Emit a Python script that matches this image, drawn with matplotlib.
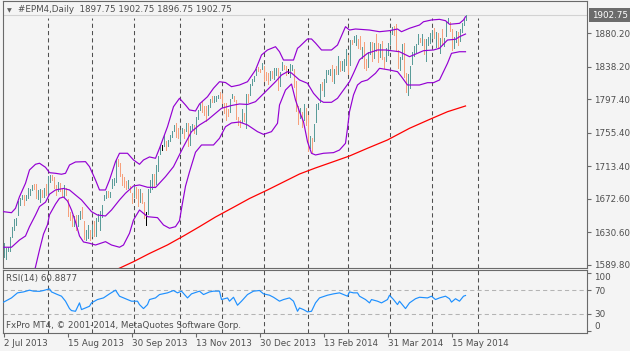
import matplotlib
matplotlib.use("Agg")
import matplotlib.pyplot as plt
import matplotlib.transforms as mtransforms

# ---- daily bars (#EPM4), one per trading session, 2 Jul 2013 .. 26 May 2014
closes = [
    1607.1, 1608.4, 1610.0, 1624.9, 1633.5, 1645.3, 1645.6, 1668.0, 1673.2, 1675.5,
    1669.3, 1673.9, 1682.4, 1685.1, 1688.5, 1685.4, 1678.9, 1683.3, 1684.7, 1678.3,
    1679.0, 1678.7, 1699.9, 1702.7, 1700.1, 1690.4, 1683.9, 1690.5, 1684.4, 1682.5,
    1687.2, 1678.4, 1654.3, 1648.8, 1639.1, 1645.4, 1635.8, 1650.0, 1656.5, 1649.8,
    1623.5, 1628.0, 1631.2, 1626.0, 1638.0, 1632.8, 1646.1, 1648.1, 1648.2, 1664.7,
    1677.0, 1682.1, 1676.4, 1681.0, 1690.6, 1697.8, 1718.5, 1715.3, 1702.9, 1694.8,
    1690.4, 1685.8, 1691.7, 1684.8, 1674.6, 1688.0, 1686.9, 1671.7, 1683.5, 1669.1,
    1648.5, 1649.4, 1685.6, 1696.2, 1703.1, 1691.1, 1714.5, 1726.2, 1737.5, 1737.7,
    1747.7, 1739.4, 1745.1, 1752.8, 1755.1, 1765.0, 1756.3, 1749.5, 1754.6, 1760.9,
    1756.0, 1763.5, 1740.2, 1763.6, 1764.9, 1760.7, 1775.0, 1783.6, 1791.2, 1784.5,
    1780.9, 1774.4, 1788.9, 1797.8, 1795.5, 1795.8, 1800.2, 1801.5, 1798.8, 1793.9,
    1788.2, 1785.8, 1778.0, 1798.1, 1801.4, 1795.6, 1775.2, 1768.5, 1768.3, 1779.5,
    1774.0, 1803.7, 1802.6, 1811.3, 1821.0, 1826.3, 1835.0, 1834.4, 1834.1, 1841.4,
    1825.0, 1824.4, 1819.8, 1830.9, 1830.5, 1831.1, 1835.4, 1812.2, 1831.9, 1841.4,
    1838.9, 1831.7, 1833.5, 1836.8, 1837.9, 1821.5, 1783.3, 1774.6, 1785.5, 1767.2,
    1787.2, 1775.6, 1734.9, 1748.2, 1744.6, 1766.4, 1790.0, 1792.8, 1812.8, 1812.3,
    1822.8, 1831.6, 1832.0, 1833.8, 1821.8, 1832.8, 1829.3, 1840.6, 1838.1, 1838.2,
    1847.3, 1852.5, 1840.7, 1868.9, 1868.8, 1872.0, 1873.0, 1872.2, 1862.6, 1863.2,
    1841.3, 1836.1, 1853.8, 1867.3, 1855.8, 1867.0, 1861.5, 1852.4, 1860.6, 1847.6,
    1844.0, 1852.6, 1867.3, 1880.5, 1885.9, 1883.8, 1860.1, 1840.0, 1847.0, 1867.2,
    1828.1, 1810.7, 1825.6, 1838.0, 1857.3, 1859.9, 1866.9, 1874.6, 1870.4, 1873.6,
    1858.4, 1864.4, 1873.3, 1879.0, 1879.7, 1877.1, 1880.7, 1863.7, 1874.2, 1871.6,
    1874.5, 1893.7, 1894.5, 1885.5, 1867.9, 1874.9, 1882.1, 1869.8, 1885.0, 1889.5,
    1897.5, 1902.75]
highs = [
    1617.3, 1611.0, 1612.5, 1625.1, 1637.7, 1647.2, 1649.0, 1669.6, 1673.2, 1678.0,
    1677.8, 1677.8, 1686.1, 1685.1, 1690.6, 1691.8, 1691.4, 1683.9, 1684.9, 1683.9,
    1686.2, 1691.4, 1700.9, 1702.7, 1702.2, 1699.7, 1689.8, 1693.2, 1692.4, 1684.5,
    1689.8, 1686.4, 1672.6, 1656.6, 1652.6, 1651.6, 1652.5, 1652.0, 1657.8, 1662.5,
    1645.5, 1634.2, 1639.4, 1633.6, 1640.0, 1644.4, 1648.7, 1653.9, 1657.8, 1665.4,
    1677.1, 1682.1, 1683.0, 1681.6, 1698.0, 1698.5, 1722.4, 1722.9, 1718.0, 1704.4,
    1700.6, 1694.7, 1696.9, 1688.5, 1680.3, 1689.6, 1686.9, 1685.6, 1684.9, 1680.5,
    1669.2, 1655.6, 1685.6, 1696.4, 1704.0, 1704.0, 1714.8, 1726.4, 1738.3, 1740.8,
    1752.3, 1745.7, 1746.8, 1752.8, 1758.0, 1765.1, 1768.2, 1761.5, 1758.7, 1761.8,
    1760.0, 1767.5, 1767.5, 1763.8, 1766.4, 1764.8, 1775.0, 1784.0, 1791.2, 1795.3,
    1788.5, 1788.7, 1790.0, 1797.8, 1801.4, 1801.4, 1801.4, 1803.0, 1806.6, 1804.0,
    1793.1, 1792.8, 1785.2, 1798.1, 1804.5, 1801.4, 1796.0, 1775.1, 1771.5, 1785.2,
    1779.8, 1804.1, 1803.9, 1816.8, 1822.8, 1826.3, 1835.8, 1837.9, 1835.5, 1842.4,
    1838.9, 1831.2, 1830.2, 1833.1, 1833.0, 1836.2, 1836.8, 1836.5, 1832.3, 1843.8,
    1841.0, 1839.5, 1836.0, 1842.3, 1839.9, 1835.3, 1820.0, 1789.0, 1786.9, 1781.4,
    1791.8, 1786.9, 1777.8, 1751.7, 1748.5, 1767.1, 1791.0, 1792.9, 1816.5, 1819.6,
    1823.1, 1834.7, 1834.5, 1835.9, 1840.5, 1835.8, 1839.1, 1851.7, 1845.7, 1845.6,
    1847.5, 1860.9, 1852.7, 1871.2, 1871.5, 1876.9, 1878.6, 1872.9, 1877.4, 1863.4,
    1869.4, 1847.4, 1857.3, 1868.8, 1869.1, 1868.5, 1879.0, 1868.3, 1866.9, 1870.2,
    1850.1, 1861.6, 1868.0, 1880.8, 1888.2, 1888.8, 1892.3, 1859.0, 1850.0, 1867.4,
    1867.5, 1830.1, 1829.2, 1839.0, 1857.3, 1864.6, 1867.0, 1879.9, 1874.8, 1879.1,
    1872.7, 1872.6, 1875.6, 1880.2, 1884.6, 1887.3, 1881.5, 1880.4, 1874.8, 1885.1,
    1874.8, 1894.1, 1899.2, 1894.3, 1885.8, 1875.8, 1883.0, 1881.9, 1885.4, 1893.3,
    1898.3, 1902.75]
lows = [
    1599.8, 1597.6, 1607.5, 1607.7, 1624.9, 1633.5, 1639.7, 1652.8, 1665.3, 1672.7,
    1664.4, 1670.9, 1674.0, 1677.1, 1683.9, 1684.6, 1673.2, 1673.0, 1669.0, 1674.9,
    1675.4, 1677.9, 1678.7, 1693.7, 1696.6, 1686.1, 1677.5, 1682.4, 1682.0, 1676.4,
    1675.6, 1677.3, 1651.6, 1645.6, 1638.8, 1639.1, 1634.2, 1638.8, 1647.8, 1649.0,
    1622.1, 1620.5, 1623.9, 1621.1, 1626.0, 1626.4, 1626.7, 1644.9, 1633.6, 1649.9,
    1670.9, 1674.0, 1675.0, 1675.2, 1686.7, 1690.5, 1693.4, 1714.4, 1701.9, 1690.1,
    1687.9, 1684.9, 1686.1, 1681.0, 1668.0, 1675.1, 1673.3, 1663.4, 1669.0, 1668.0,
    1648.4, 1639.5, 1653.9, 1681.5, 1685.1, 1688.5, 1691.1, 1707.1, 1728.7, 1733.7,
    1739.2, 1733.5, 1738.5, 1745.5, 1750.7, 1757.2, 1750.2, 1748.7, 1745.7, 1754.6,
    1748.8, 1757.6, 1739.2, 1740.6, 1760.8, 1755.0, 1753.6, 1773.2, 1783.8, 1781.4,
    1777.7, 1770.2, 1778.0, 1787.7, 1793.8, 1793.6, 1795.8, 1799.5, 1798.5, 1792.8,
    1780.9, 1772.1, 1776.4, 1781.9, 1799.0, 1794.9, 1773.1, 1765.3, 1763.0, 1769.0,
    1770.2, 1761.0, 1794.3, 1803.3, 1815.3, 1821.0, 1828.0, 1832.8, 1831.8, 1835.4,
    1820.7, 1822.1, 1816.7, 1821.7, 1824.4, 1823.4, 1827.4, 1808.5, 1814.1, 1833.6,
    1835.4, 1828.2, 1831.0, 1825.4, 1833.9, 1813.1, 1783.3, 1765.9, 1774.2, 1763.3,
    1771.0, 1765.3, 1732.7, 1736.1, 1730.9, 1745.6, 1769.0, 1784.8, 1793.8, 1809.0,
    1802.2, 1818.9, 1829.5, 1828.0, 1820.0, 1817.9, 1828.6, 1829.8, 1833.2, 1833.7,
    1833.2, 1840.7, 1829.4, 1840.9, 1867.0, 1869.2, 1865.6, 1862.0, 1861.1, 1849.4,
    1836.9, 1834.6, 1837.8, 1853.9, 1845.4, 1849.6, 1858.5, 1844.7, 1851.0, 1847.6,
    1837.1, 1845.5, 1852.4, 1867.3, 1878.8, 1877.7, 1858.3, 1836.5, 1834.6, 1847.4,
    1825.9, 1806.0, 1803.0, 1811.3, 1841.1, 1851.7, 1856.8, 1867.4, 1868.9, 1865.2,
    1854.7, 1845.6, 1865.1, 1867.7, 1874.0, 1874.5, 1862.8, 1863.5, 1855.8, 1866.1,
    1863.9, 1877.0, 1893.1, 1882.8, 1859.4, 1861.8, 1869.4, 1865.8, 1870.7, 1882.4,
    1890.4, 1896.75]
doji_bars = [71, 79, 142]

# ---- Bollinger bands (20)
upper_band_bars = [0, 4, 6, 8, 11, 13, 16, 18, 21, 23, 26, 29, 31, 33, 36, 41, 43, 46, 48, 51,
                   53, 56, 58, 62, 65, 68, 70, 73, 76, 78, 82, 85, 88, 91, 93, 96, 98, 102, 105, 108,
                   111, 114, 118, 122, 126, 129, 132, 136, 138, 140, 145, 147, 148, 152, 154, 156, 159, 164, 167, 171,
                   173, 176, 183, 188, 193, 197, 199, 203, 208, 210, 214, 218, 221, 223, 228, 230, 231]
upper_band = [1656.6, 1655.3, 1660.8, 1675.4, 1692.2, 1708.9, 1716.0, 1717.3, 1712.2, 1705.5,
              1704.7, 1703.5, 1704.7, 1715.1, 1718.9, 1719.3, 1713.0, 1696.3, 1683.8, 1683.8,
              1696.3, 1719.3, 1729.8, 1729.8, 1721.4, 1716.0, 1721.4, 1725.2, 1723.5, 1736.1,
              1763.1, 1788.2, 1798.7, 1790.3, 1784.1, 1782.8, 1791.6, 1800.7, 1811.3, 1819.5,
              1818.5, 1813.3, 1815.4, 1819.5, 1834.2, 1853.0, 1859.3, 1863.4, 1857.1, 1846.7,
              1846.7, 1861.4, 1863.4, 1873.1, 1873.1, 1868.0, 1859.3, 1859.3, 1865.5, 1888.5,
              1884.3, 1885.6, 1884.3, 1882.2, 1883.5, 1885.6, 1882.2, 1886.5, 1890.6, 1894.7,
              1896.9, 1897.7, 1896.0, 1891.5, 1892.7, 1896.9, 1901.0]
middle_band_bars = [0, 4, 8, 11, 13, 16, 18, 21, 23, 26, 30, 33, 36, 39, 44, 47, 51, 54, 58, 61,
                    65, 68, 72, 76, 81, 85, 90, 94, 98, 102, 106, 109, 114, 118, 122, 126, 131, 136, 139, 142,
                    144, 148, 152, 155, 158, 160, 164, 167, 170, 173, 175, 178, 182, 187, 191, 198, 203, 205, 210, 215,
                    218, 222, 226, 228, 231]
middle_band = [1612.0, 1612.0, 1621.1, 1626.1, 1637.8, 1652.4, 1663.0, 1668.5, 1678.5, 1683.8,
               1685.7, 1683.8, 1677.5, 1671.3, 1656.6, 1652.4, 1651.2, 1658.7, 1671.3, 1679.7,
               1688.8, 1690.1, 1687.2, 1686.9, 1700.5, 1713.0, 1738.1, 1756.9, 1765.3, 1771.5,
               1779.9, 1786.2, 1789.7, 1791.6, 1791.0, 1794.5, 1807.0, 1819.5, 1827.9, 1832.1,
               1830.4, 1821.7, 1817.5, 1805.0, 1796.6, 1793.7, 1793.7, 1798.7, 1809.1, 1819.5,
               1830.1, 1847.0, 1855.1, 1859.3, 1859.3, 1857.1, 1850.9, 1853.0, 1858.4, 1859.3,
               1861.4, 1871.8, 1872.7, 1875.9, 1879.3]
lower_band_bars = [0, 7, 12, 14, 16, 18, 20, 22, 23, 26, 28, 30, 32, 34, 36, 38, 40, 43, 46, 51,
                   54, 58, 60, 63, 65, 68, 69, 72, 77, 80, 83, 86, 88, 89, 91, 93, 96, 99, 105, 108,
                   111, 114, 118, 122, 127, 130, 134, 137, 138, 141, 144, 146, 148, 150, 152, 154, 156, 160, 165, 168,
                   171, 172, 173, 175, 177, 179, 182, 186, 188, 193, 197, 199, 202, 208, 212, 215, 218, 222, 224, 228,
                   231]
lower_band = [1567.2, 1571.0, 1559.7, 1571.0, 1587.3, 1608.6, 1628.5, 1640.3, 1652.7, 1666.1,
              1673.4, 1675.0, 1670.0, 1658.7, 1643.7, 1626.1, 1618.6, 1617.0, 1614.8, 1619.0,
              1614.8, 1612.0, 1614.8, 1629.5, 1646.2, 1658.7, 1656.6, 1650.3, 1649.1, 1639.9,
              1635.8, 1637.8, 1645.3, 1660.3, 1688.5, 1706.5, 1731.1, 1740.2, 1740.2, 1748.6,
              1763.1, 1767.8, 1769.0, 1765.3, 1756.9, 1753.5, 1756.9, 1767.4, 1790.3, 1809.1,
              1816.6, 1796.6, 1781.9, 1769.4, 1744.3, 1729.8, 1727.7, 1729.8, 1730.6, 1733.9,
              1742.3, 1761.1, 1781.9, 1802.9, 1815.4, 1819.5, 1821.7, 1830.1, 1836.3, 1834.2,
              1832.1, 1825.8, 1815.4, 1815.4, 1818.3, 1818.3, 1821.7, 1842.6, 1855.1, 1857.1,
              1857.1]

# ---- long moving average (red)
sma_bars = [53, 59, 65, 73, 82, 90, 98, 106, 115, 123, 132, 140, 148, 156, 165, 173, 182, 192, 203, 213, 222, 231]
sma_200 = [1579.8, 1586.9, 1593.9, 1604.2, 1614.9, 1626.1, 1637.8, 1649.9, 1662.1, 1673.1, 1683.8,
           1693.8, 1703.8, 1711.4, 1719.3, 1726.4, 1736.1, 1746.5, 1761.1, 1772.2, 1781.9, 1789.1]

# ---- RSI(14)
rsi_bars = [0, 4, 7, 10, 13, 15, 18, 20, 23, 24, 27, 29, 31, 33, 34, 36, 38, 39, 41, 43,
            44, 47, 50, 53, 56, 58, 62, 64, 67, 68, 70, 72, 73, 76, 78, 82, 85, 87, 89, 92,
            94, 98, 100, 103, 105, 108, 109, 112, 113, 115, 117, 119, 122, 125, 128, 130, 133, 135, 138, 140,
            143, 145, 147, 148, 150, 152, 154, 156, 158, 162, 165, 168, 172, 173, 175, 177, 178, 181, 183, 184,
            187, 189, 192, 193, 195, 197, 198, 201, 203, 206, 208, 212, 214, 216, 218, 221, 223, 224, 226, 228,
            230, 231]
rsi_values = [49.5, 56.8, 65.4, 67, 70, 68.3, 68, 69.4, 72.2, 67, 62.5, 59.7, 51.2, 38.6, 35.2, 34, 48.3, 36.9, 39.7, 42.6,
              48.3, 54, 56.8, 63.7, 70, 59.7, 54, 51.2, 51.2, 45.4, 38.6, 45.4, 54, 56.8, 62.5, 65.4, 69.4, 65.4, 68.3, 56.8,
              63.7, 68.3, 62.5, 67, 68.3, 68.3, 54, 56.8, 51.2, 57.9, 44.3, 51.2, 62.5, 68.3, 69.4, 63.7, 61.4, 57.9, 51.2, 54,
              56.8, 51.2, 34, 39.7, 36.9, 33, 34, 48.3, 56.8, 61.4, 63.7, 65.4, 59.7, 67, 65.4, 65.4, 59.7, 54, 48.3, 54,
              51.2, 48.3, 54, 61.4, 54, 45.4, 51.2, 38.6, 48.3, 55.4, 57.9, 56.8, 59.7, 54, 56.8, 59.7, 55.4, 49.6, 55.4, 51.2,
              59.7, 60.9]

price_ticks = [1589.80, 1630.60, 1672.60, 1713.40, 1755.40, 1797.40, 1838.20, 1880.20]
month_start_bars = [22, 44, 65, 88, 109, 130, 152, 172, 193, 214, 237]
date_label_bars = [0, 32, 64, 96, 128, 160, 192, 224]
date_labels = ["2 Jul 2013", "15 Aug 2013", "30 Sep 2013", "13 Nov 2013",
               "30 Dec 2013", "13 Feb 2014", "31 Mar 2014", "15 May 2014"]
last_price = 1902.75

BG = "#f4f4f4"
FRAME = "#6a6a6a"
TXT = "#4e4e4e"
UP = "#5a9c99"
DOWN = "#f6a07c"
VIOLET = "#9400d3"
FS = 6.3

plt.rcParams["font.family"] = ["DejaVu Sans"]

W, H = 630, 351
fig = plt.figure(figsize=(W / 100, H / 100), dpi=100, facecolor=BG)


def px_axes(x0, y0, x1, y1):
    return fig.add_axes([x0 / W, 1 - y1 / H, (x1 - x0) / W, (y1 - y0) / H])


ax = px_axes(2.5, 1, 587, 267.5)
ax_rsi = px_axes(2.5, 269.5, 587, 333)

# two pixels per bar, bar centres on pixel centres
for a in (ax, ax_rsi):
    a.set_facecolor(BG)
    a.set_xlim(-0.5, 291.75)
    for s in a.spines.values():
        s.set_color(FRAME)
        s.set_linewidth(0.8)

ax.set_ylim(1586.6, 1920.7)
ax_rsi.set_ylim(-3, 105.2)

# month grid
grid_style = dict(color="#505050", lw=0.75, ls=(0, (4, 3)), zorder=1)
for b in month_start_bars:
    ax.axvline(b, ymax=0.936, **grid_style)
    ax_rsi.axvline(b, **grid_style)

# price line
ax.axhline(last_price, color="#d2d2d2", lw=0.8, zorder=1)

# bars, 1 px wide
xs = list(range(len(closes)))
cols = []
for i, c in enumerate(closes):
    if i in doji_bars:
        cols.append("black")
    elif i == 0 or c >= closes[i - 1]:
        cols.append(UP)
    else:
        cols.append(DOWN)
ax.vlines(xs, lows, highs, colors=cols, linewidth=0.72, antialiased=False, zorder=3)

ax.plot(sma_bars, sma_200, color="#ff0000", lw=0.9, zorder=2)
for bx, by in ((upper_band_bars, upper_band), (middle_band_bars, middle_band),
               (lower_band_bars, lower_band)):
    ax.plot(bx, by, color=VIOLET, lw=0.85, zorder=4)

# price scale
ax.set_xticks([])
ax.yaxis.tick_right()
ax.set_yticks(price_ticks)
ax.set_yticklabels(["%.2f" % v for v in price_ticks])
ax.tick_params(axis="y", length=3, width=0.8, color=FRAME, labelsize=FS,
               labelcolor=TXT, pad=2)
trans = mtransforms.blended_transform_factory(ax.transAxes, ax.transData)
ax.text(1.0087, last_price, "1902.75", transform=trans, ha="left", va="center",
        fontsize=FS, color="white",
        bbox=dict(boxstyle="square,pad=0.3", fc="#6b6b6b", ec="none"))

# title
fig.text(9 / W, 1 - 11 / H, "\u25bc", fontsize=4.5, color="#606060", ha="center", va="center")
fig.text(18 / W, 1 - 10 / H, "#EPM4,Daily  1897.75 1902.75 1896.75 1902.75",
         fontsize=FS, color=TXT, ha="left", va="center")

# RSI panel
ax_rsi.plot(rsi_bars, rsi_values, color="#1e90ff", lw=0.85, zorder=3)
for lvl in (70, 30):
    ax_rsi.axhline(lvl, color="#b4b4b4", lw=0.75, ls=(0, (4, 3)), zorder=1)
ax_rsi.yaxis.tick_right()
ax_rsi.set_yticks([100, 70, 30, 0])
ax_rsi.set_yticklabels(["100", "70", "30", "0"])
ax_rsi.tick_params(axis="y", length=3, width=0.8, color=FRAME, labelsize=FS,
                   labelcolor=TXT, pad=2)
ylabels = ax_rsi.get_yticklabels()
ylabels[0].set_va("top")
ylabels[3].set_va("bottom")
ax_rsi.set_xticks(date_label_bars)
ax_rsi.set_xticklabels(date_labels, ha="left")
ax_rsi.tick_params(axis="x", length=3, width=0.8, color=FRAME, labelsize=FS,
                   labelcolor=TXT, pad=1.5)
ax_rsi.text(0.006, 0.86, "RSI(14) 60.8877", transform=ax_rsi.transAxes,
            fontsize=FS, color=TXT, ha="left", va="center")
ax_rsi.text(0.006, 0.12, "FxPro MT4, \u00a9 2001-2014, MetaQuotes Software Corp.",
            transform=ax_rsi.transAxes, fontsize=FS, color=TXT, ha="left", va="center")

fig.savefig("out.png", dpi=100, facecolor=BG)
